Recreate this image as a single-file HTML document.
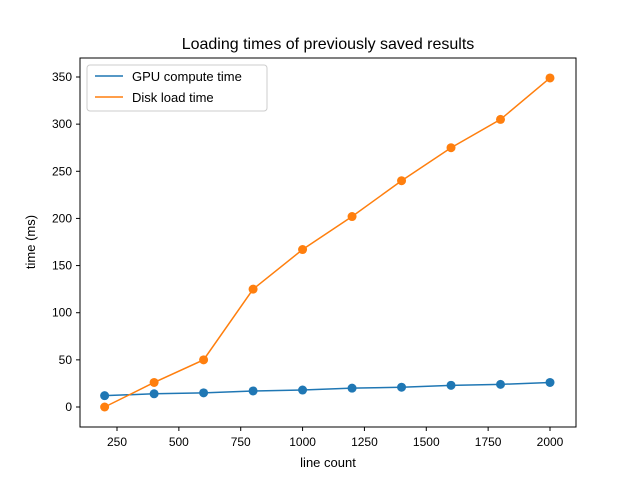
<!DOCTYPE html>
<html><head><meta charset="utf-8"><style>body{margin:0;background:#fff}svg{font-family:"Liberation Sans","DejaVu Sans",sans-serif}</style></head>
<body>
<svg id="c" width="640" height="480">
<rect width="640" height="480" fill="#fff"/>
<text x="328" y="49" text-anchor="middle" font-size="16">Loading times of previously saved results</text>
<g id="plot"></g>
<rect x="80" y="58" width="496" height="369" fill="none" stroke="#000" stroke-width="1"/>
<text x="328" y="467" text-anchor="middle" font-size="13">line count</text>
<text transform="translate(35,242) rotate(-90)" text-anchor="middle" font-size="13">time (ms)</text>
<g>
<rect x="87" y="65" width="180" height="46" rx="3" fill="#fff" stroke="#ccc"/>
<line x1="95" y1="76" x2="123" y2="76" stroke="#1f77b4" stroke-width="1.5"/>
<text x="132" y="81" font-size="13">GPU compute time</text>
<line x1="95" y1="97" x2="123" y2="97" stroke="#ff7f0e" stroke-width="1.5"/>
<text x="132" y="102" font-size="13">Disk load time</text>
</g>
</svg>
<script>
const lineCounts=[200,400,600,800,1000,1200,1400,1600,1800,2000];
const gpuTimes=[12,14,15,17,18,20,21,23,24,26];
const diskTimes=[0,26,50,125,167,202,240,275,305,349];
const xTicks=[250,500,750,1000,1250,1500,1750,2000];
const yTicks=[0,50,100,150,200,250,300,350];
const NS="http://www.w3.org/2000/svg";
function xs(v){return 117+(v-250)*(433/1750);}
function ys(v){return 407-v*(330/350);}
const g=document.getElementById('plot');
function mk(t,a){const e=document.createElementNS(NS,t);for(const k in a)e.setAttribute(k,a[k]);g.appendChild(e);return e;}
xTicks.forEach(t=>{
 const l=mk('line',{x1:xs(t),x2:xs(t),y1:427,y2:431,stroke:'#000'});
 
 
 const tx=mk('text',{x:xs(t),y:446,'text-anchor':'middle','font-size':12});tx.textContent=t;
 
 
});
yTicks.forEach(t=>{
 const l=mk('line',{x1:76,x2:80,y1:ys(t),y2:ys(t),stroke:'#000'});
 
 
 const tx=mk('text',{x:72,y:ys(t)+4,'text-anchor':'end','font-size':12});tx.textContent=t;
 
 
});
function series(vals,color,name){
 const pts=lineCounts.map((x,i)=>xs(x)+','+ys(vals[i])).join(' ');
 const p=mk('polyline',{points:pts,fill:'none',stroke:color,'stroke-width':1.5});
 
 
 lineCounts.forEach((x,i)=>{
  const c=mk('circle',{cx:xs(x),cy:ys(vals[i]),r:4.5,fill:color});
  
  
 });
}
series(gpuTimes,'#1f77b4','gpu');
series(diskTimes,'#ff7f0e','disk');
</script>
</body></html>
